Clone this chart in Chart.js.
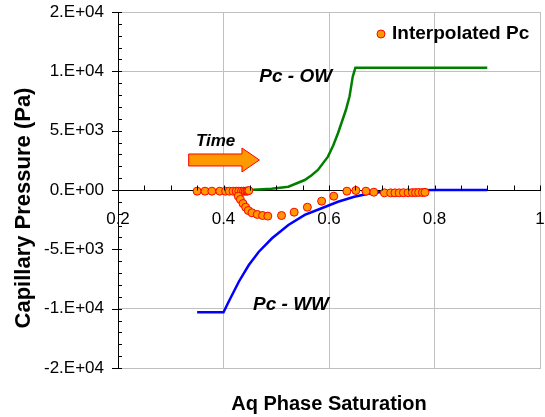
<!DOCTYPE html>
<html>
<head>
<meta charset="utf-8">
<script src="https://cdn.jsdelivr.net/npm/chart.js@4.4.1/dist/chart.umd.min.js"></script>
<style>
  html, body { margin: 0; padding: 0; background: #fff; }
  #wrap { width: 545px; height: 417px; position: relative; }
</style>
</head>
<body>
<div id="wrap"><canvas id="chart"></canvas></div>
<script>
// Pc - OW curve (oil-wet)
const owSat = [0.448, 0.491, 0.523, 0.554, 0.567, 0.579, 0.598, 0.608, 0.617, 0.632, 0.639, 0.645, 0.650, 0.900];
const owPc = [0, 100, 280, 840, 1250, 1690, 2810, 3750, 4780, 6740, 7900, 9550, 10300, 10300];

// Pc - WW curve (water-wet)
const wwSat = [0.350, 0.400, 0.410, 0.429, 0.448, 0.467, 0.492, 0.523, 0.554, 0.586, 0.617, 0.648, 0.679, 0.705, 0.750, 0.800, 0.900];
const wwPc = [-10300, -10300, -9400, -7730, -6320, -5200, -4070, -2950, -2100, -1540, -990, -570, -280, -140, -40, -10, 0];

// Interpolated Pc points
const interpSat = [
  0.350, 0.365, 0.378, 0.393, 0.404, 0.411, 0.418, 0.424, 0.429, 0.434, 0.438, 0.441, 0.444, 0.446, 0.448,
  0.428, 0.432, 0.437, 0.442, 0.447, 0.454, 0.464, 0.474, 0.484, 0.510, 0.534, 0.559, 0.586, 0.609, 0.634,
  0.651, 0.670, 0.685, 0.705, 0.717, 0.725, 0.733, 0.741, 0.750, 0.758, 0.764, 0.770, 0.777, 0.782
];
const interpPc = [
  -100, -100, -100, -100, -100, -100, -100, -100, -100, -100, -100, -100, -100, -80, -50,
  -520, -800, -1140, -1450, -1730, -1920, -2060, -2150, -2200, -2150, -1870, -1450, -940, -520, -100,
  -40, -100, -185, -240, -240, -240, -240, -230, -230, -220, -220, -210, -210, -200
];

const yTickValues = [-15000, -10000, -5000, 0, 5000, 10000, 15000];
const yTickLabels = ['-2.E+04', '-1.E+04', '-5.E+03', '0.E+00', '5.E+03', '1.E+04', '2.E+04'];
const xTickLabels = ['0.2', '0.4', '0.6', '0.8', '1'];

const FONT = 'Arial, "Liberation Sans", sans-serif';
Chart.defaults.font.family = FONT;
Chart.defaults.color = '#000';

function toPoints(xs, ys) {
  return xs.map((x, i) => ({ x, y: ys[i] }));
}

const GRID_GREY = '#c0c0c0';

const extras = {
  id: 'extras',
  afterDraw(chart) {
    const { ctx, scales, chartArea } = chart;
    const x = scales.x;
    const y = scales.y;
    const y0 = Math.round(y.getPixelForValue(0)) + 0.5;

    ctx.save();
    // axis tick marks
    ctx.strokeStyle = '#000';
    ctx.lineWidth = 1;
    ctx.beginPath();
    for (let v = -15000; v <= 15000; v += 1000) {
      const py = Math.round(y.getPixelForValue(v)) + 0.5;
      const major = v % 5000 === 0;
      ctx.moveTo(x.left - (major ? 6 : 0), py);
      ctx.lineTo(x.left + 4, py);
    }
    for (let k = 0; k <= 16; k++) {
      const px = Math.round(x.getPixelForValue(0.2 + k * 0.05)) + 0.5;
      ctx.moveTo(px, y0);
      ctx.lineTo(px, y0 - 5);
    }
    ctx.stroke();

    // "Time" arrow
    const ax0 = x.getPixelForValue(0.334);
    const ax1 = x.getPixelForValue(0.435);
    const ax2 = x.getPixelForValue(0.468);
    const ay = y.getPixelForValue(2530);
    ctx.beginPath();
    ctx.moveTo(ax0, ay - 6);
    ctx.lineTo(ax1, ay - 6);
    ctx.lineTo(ax1, ay - 12);
    ctx.lineTo(ax2, ay);
    ctx.lineTo(ax1, ay + 12);
    ctx.lineTo(ax1, ay + 6);
    ctx.lineTo(ax0, ay + 6);
    ctx.closePath();
    ctx.fillStyle = '#ff9900';
    ctx.fill();
    ctx.strokeStyle = '#ff0000';
    ctx.stroke();

    // legend
    const ds = chart.data.datasets[0];
    const lx = chartArea.right - 148;
    const ly = chartArea.top + 22;
    ctx.beginPath();
    ctx.arc(lx - 11, ly, 4, 0, Math.PI * 2);
    ctx.fillStyle = ds.backgroundColor;
    ctx.fill();
    ctx.strokeStyle = ds.borderColor;
    ctx.stroke();
    ctx.fillStyle = '#000';
    ctx.textAlign = 'left';
    ctx.textBaseline = 'middle';
    ctx.font = `bold 19px ${FONT}`;
    ctx.fillText(ds.label, lx, ly);

    // text labels
    ctx.textAlign = 'center';
    ctx.font = `italic bold 19px ${FONT}`;
    ctx.fillText('Pc - OW', x.getPixelForValue(0.537), y.getPixelForValue(9580));
    ctx.fillText('Pc - WW', x.getPixelForValue(0.528), y.getPixelForValue(-9640));
    ctx.font = `italic bold 17px ${FONT}`;
    ctx.fillText('Time', x.getPixelForValue(0.385), y.getPixelForValue(4110));

    // y axis title
    ctx.font = `bold 22px ${FONT}`;
    ctx.translate(24, 208);
    ctx.rotate(-Math.PI / 2);
    ctx.fillText('Capillary Pressure (Pa)', 0, 0);
    ctx.restore();
  },
};

new Chart(document.getElementById('chart'), {
  type: 'line',
  data: {
    datasets: [
      {
        label: 'Interpolated Pc',
        type: 'scatter',
        data: toPoints(interpSat, interpPc),
        backgroundColor: '#ff9900',
        borderColor: '#ff0000',
        borderWidth: 1,
        pointRadius: 4,
        showLine: false,
      },
      {
        label: 'Pc - OW',
        data: toPoints(owSat, owPc),
        borderColor: '#008000',
        backgroundColor: '#008000',
        borderWidth: 2.5,
        pointRadius: 0,
        tension: 0,
      },
      {
        label: 'Pc - WW',
        data: toPoints(wwSat, wwPc),
        borderColor: '#0000ff',
        backgroundColor: '#0000ff',
        borderWidth: 2.5,
        pointRadius: 0,
        tension: 0,
      },
    ],
  },
  options: {
    responsive: true,
    maintainAspectRatio: false,
    animation: false,
    layout: { padding: { top: 12, right: 1, left: 0, bottom: 0 } },
    plugins: {
      tooltip: { enabled: false },
      legend: { display: false },
    },
    scales: {
      x: {
        type: 'linear',
        position: 'bottom',
        min: 0.2,
        max: 1,
        ticks: { display: false, stepSize: 0.2 },
        grid: {
          drawTicks: false,
          color: (c) => (c.tick && c.tick.value > 0.21 ? GRID_GREY : 'rgba(0,0,0,0)'),
        },
        border: { color: GRID_GREY },
        title: {
          display: true,
          text: 'Aq Phase Saturation',
          font: { size: 20, weight: 'bold' },
          padding: { top: 0, bottom: 1 },
        },
        afterFit(scale) {
          scale.height = 49;
          scale.paddingLeft = 0;
          scale.paddingRight = 0;
        },
      },
      x2: {
        type: 'linear',
        position: { y: 0 },
        min: 0.2,
        max: 1,
        ticks: {
          stepSize: 0.2,
          padding: 19,
          maxRotation: 0,
          font: { size: 17 },
          callback: (value, index) => xTickLabels[index],
        },
        grid: { display: false, drawTicks: false },
        border: { color: '#000', width: 1 },
        afterFit(scale) {
          scale.paddingLeft = 0;
          scale.paddingRight = 0;
        },
      },
      y: {
        type: 'linear',
        min: -15000,
        max: 15000,
        afterBuildTicks(scale) {
          scale.ticks = yTickValues.map((value) => ({ value }));
        },
        ticks: {
          padding: 14,
          font: { size: 17 },
          callback: (value) => yTickLabels[yTickValues.indexOf(value)],
        },
        grid: {
          drawTicks: false,
          color: (c) => (c.tick && Math.abs(c.tick.value) >= 10000 ? GRID_GREY : 'rgba(0,0,0,0)'),
        },
        border: { color: '#000', width: 1 },
        afterFit(scale) {
          scale.width = 118;
          scale.paddingTop = 0;
          scale.paddingBottom = 0;
        },
      },
    },
  },
  plugins: [extras],
});
</script>
</body>
</html>
